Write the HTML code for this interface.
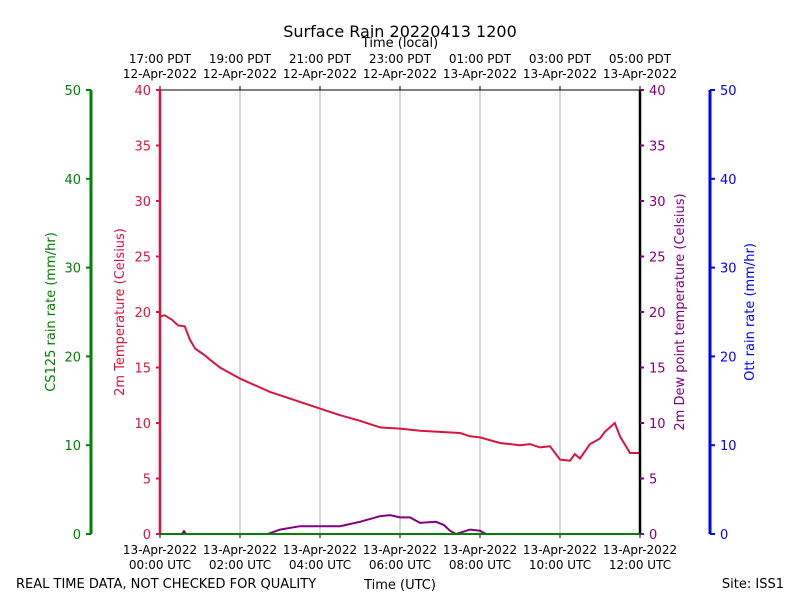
<!DOCTYPE html>
<html><head><meta charset="utf-8"><style>
body{margin:0;background:#fff;font-family:"Liberation Sans","DejaVu Sans",sans-serif}
svg text{font-family:"DejaVu Sans","Liberation Sans",sans-serif}
</style></head><body>
<svg id="c" width="800" height="600"></svg>
<script>
const tempTimes=[0,0.12,0.3,0.45,0.62,0.75,0.88,1,1.12,1.25,1.5,2,2.5,2.75,3.25,3.5,4,4.5,5,5.5,6,6.5,7,7.5,7.75,8,8.5,9,9.25,9.5,9.75,10,10.25,10.37,10.5,10.75,11,11.12,11.37,11.5,11.75,12];
const tempVals=[19.6,19.7,19.3,18.8,18.7,17.5,16.7,16.4,16.1,15.7,15.0,14.0,13.2,12.8,12.2,11.9,11.3,10.7,10.2,9.6,9.5,9.3,9.2,9.1,8.8,8.7,8.2,8.0,8.1,7.8,7.9,6.7,6.6,7.2,6.8,8.1,8.6,9.2,10.0,8.8,7.3,7.3];
const dewTimes=[0,0.55,0.6,0.65,1,2.7,3,3.5,4,4.5,5,5.5,5.75,6,6.25,6.5,6.9,7.1,7.25,7.4,7.75,8,8.15,12];
const dewVals=[0,0,0.25,0,0,0,0.4,0.7,0.7,0.7,1.1,1.6,1.7,1.5,1.5,1.0,1.1,0.8,0.3,0,0.4,0.3,0,0];
const leftTicks=[0,5,10,15,20,25,30,35,40];
const rainTicks=[0,10,20,30,40,50];
const utcLabels=["13-Apr-2022|00:00 UTC","13-Apr-2022|02:00 UTC","13-Apr-2022|04:00 UTC","13-Apr-2022|06:00 UTC","13-Apr-2022|08:00 UTC","13-Apr-2022|10:00 UTC","13-Apr-2022|12:00 UTC"];
const localLabels=["17:00 PDT|12-Apr-2022","19:00 PDT|12-Apr-2022","21:00 PDT|12-Apr-2022","23:00 PDT|12-Apr-2022","01:00 PDT|13-Apr-2022","03:00 PDT|13-Apr-2022","05:00 PDT|13-Apr-2022"];
const X0=160,X1=640,Y0=534,Y1=90;
const xs=t=>X0+t/12*(X1-X0), ys=v=>Y0-v/40*(Y0-Y1), yr=v=>Y0-v/50*(Y0-Y1);
const svg=document.getElementById('c');const NS='http://www.w3.org/2000/svg';
function el(tag,a,txt){const e=document.createElementNS(NS,tag);for(const k in a)e.setAttribute(k,a[k]);if(txt!==undefined)e.textContent=txt;svg.appendChild(e);return e;}
// grid
utcLabels.forEach((l,i)=>{const x=xs(i*2);
 if(i>0&&i<6){const g=el('line',{x1:x,x2:x,y1:Y1,y2:Y0,stroke:'#b0b0b0','stroke-width':1});}
 const t=el('line',{x1:x,x2:x,y1:Y0,y2:Y0+4,stroke:'#000'});
 const p=l.split('|');const tx=el('text',{x:x,y:554,'font-size':12,'text-anchor':'middle'},p[0]);
 const tx2=el('text',{x:x,y:569,'font-size':12,'text-anchor':'middle'},p[1]);
 const tt=el('line',{x1:x,x2:x,y1:Y1,y2:Y1-4,stroke:'#000'});
 const q=localLabels[i].split('|');const l1=el('text',{x:x,y:63,'font-size':12,'text-anchor':'middle'},q[0]);
 const l2=el('text',{x:x,y:78,'font-size':12,'text-anchor':'middle'},q[1]);
});
// series
function path(ts,vs,color,name){let d=ts.map((t,i)=>(i?'L':'M')+xs(t).toFixed(1)+','+ys(vs[i]).toFixed(1)).join('');const p=el('path',{d:d,fill:'none',stroke:color,'stroke-width':2});}
path(dewTimes,dewVals,'#800080','dewpoint-line');
path(tempTimes,tempVals,'#dc143c','temperature-line');
// frame
const fr=el('rect',{x:X0,y:Y1,width:X1-X0,height:Y0-Y1,fill:'none',stroke:'#000','stroke-width':1});
const ls=el('line',{x1:X0,x2:X0,y1:Y1,y2:Y0,stroke:'#dc143c','stroke-width':2.5});
const rs=el('line',{x1:X1,x2:X1,y1:Y1,y2:Y0,stroke:'#000','stroke-width':2.5});
const bs=el('line',{x1:X0,x2:X1,y1:Y0,y2:Y0,stroke:'#008000','stroke-width':2});
const gs=el('line',{x1:91,x2:91,y1:Y1,y2:Y0,stroke:'#008000','stroke-width':3});
const bl=el('line',{x1:710,x2:710,y1:Y1,y2:Y0,stroke:'#0000ff','stroke-width':3});
leftTicks.forEach(v=>{const y=ys(v);
 const a=el('line',{x1:X0-4,x2:X0,y1:y,y2:y,stroke:'#dc143c','stroke-width':2});
 const b=el('text',{x:X0-9,y:y+5,'font-size':13,'text-anchor':'end',fill:'#dc143c'},v);
 const c=el('line',{x1:X1,x2:X1+4,y1:y,y2:y,stroke:'#800080','stroke-width':2});
 const d=el('text',{x:X1+9,y:y+5,'font-size':13,fill:'#800080'},v);
});
rainTicks.forEach(v=>{const y=yr(v);
 const a=el('line',{x1:86,x2:91,y1:y,y2:y,stroke:'#008000','stroke-width':2});
 const b=el('text',{x:81,y:y+5,'font-size':13,'text-anchor':'end',fill:'#008000'},v);
 const c=el('line',{x1:710,x2:715,y1:y,y2:y,stroke:'#0000ff','stroke-width':2});
 const d=el('text',{x:720,y:y+5,'font-size':13,fill:'#0000ff'},v);
});
function T(x,y,s,txt,name,extra){const e=el('text',Object.assign({x:x,y:y,'font-size':s},extra||{}),txt);}
T(400,37,16,'Surface Rain 20220413 1200','chart-title',{'text-anchor':'middle'});
T(400,47,13,'Time (local)','top-axis-title',{'text-anchor':'middle'});
T(400,589,13,'Time (UTC)','x-axis-title',{'text-anchor':'middle'});
T(16,588,13,'REAL TIME DATA, NOT CHECKED FOR QUALITY','quality-note');
T(784,588,13,'Site: ISS1','site-label',{'text-anchor':'end'});
T(0,0,13,'2m Temperature (Celsius)','temp-axis-title',{transform:'translate(124,312) rotate(-90)','text-anchor':'middle',fill:'#dc143c'});
T(0,0,13,'CS125 rain rate (mm/hr)','cs125-axis-title',{transform:'translate(55,312) rotate(-90)','text-anchor':'middle',fill:'#008000'});
T(0,0,13,'2m Dew point temperature (Celsius)','dew-axis-title',{transform:'translate(684,312) rotate(-90)','text-anchor':'middle',fill:'#800080'});
T(0,0,13,'Ott rain rate (mm/hr)','ott-axis-title',{transform:'translate(754,312) rotate(-90)','text-anchor':'middle',fill:'#0000ff'});
</script></body></html>
